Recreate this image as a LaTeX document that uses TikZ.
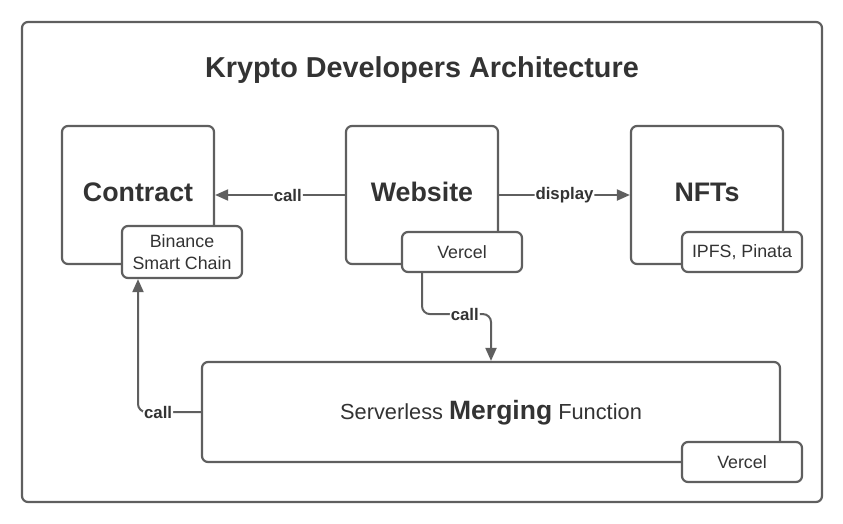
\documentclass[tikz,border=0pt]{standalone}
\usepackage{fontspec}
\setmainfont{Liberation Sans}
\usepackage{xcolor}
\usetikzlibrary{arrows.meta, positioning, calc}
\definecolor{linegray}{HTML}{5F5F5F}
\definecolor{textgray}{HTML}{333333}
\tikzset{>={Triangle[length=13pt,width=11pt]}}
\tikzset{
  bigbox/.style={draw=linegray, line width=2.2pt, rounded corners=6pt, minimum width=152pt, minimum height=138pt, text depth=6pt, text=textgray, font=\fontsize{26.8}{30}\selectfont\bfseries},
  subbox/.style={draw=linegray, fill=white, line width=2.2pt, rounded corners=6pt, minimum width=120pt, minimum height=40pt, align=center, text=textgray, font=\fontsize{17.8}{21.8}\selectfont},
  conn/.style={draw=linegray, line width=2pt, rounded corners=8pt, ->},
  lbl/.style={fill=white, inner sep=1pt, text=textgray, font=\fontsize{16.8}{20}\selectfont\bfseries}
}

\begin{document}
\begin{tikzpicture}[x=1pt,y=-1pt]
  \useasboundingbox (0,0) rectangle (843,523);
  % frame and title
  \draw [draw=linegray, line width=2.2pt, rounded corners=6pt] (22,22) rectangle (822,502);
  \node [anchor=base, text=textgray, font=\fontsize{28.8}{34}\selectfont\bfseries] (title) at (422,77) {Krypto Developers Architecture};

  % main boxes
  \node [bigbox] (contract) at (138,195) {Contract};
  \node [bigbox] (website) at (422,195) {Website};
  \node [bigbox] (nfts) at (707,195) {NFTs};
  \node [bigbox, minimum width=578pt, minimum height=100pt, text depth=4pt, font=\fontsize{21.8}{25}\selectfont] (merging) at (491,412)
    {Serverless {\fontsize{26.5}{30}\selectfont\bfseries Merging} Function};

  % hosting tags
  \node [subbox, minimum height=52pt] (bsc) at (182,252) {Binance\\Smart Chain};
  \node [subbox] (webvercel) at (462,252) {Vercel};
  \node [subbox] (ipfs) at (742,252) {IPFS, Pinata};
  \node [subbox] (fnvercel) at (742,462) {Vercel};

  % calls
  \draw [conn] (website.west) -- node [lbl, pos=0.44] {call} (contract.east);
  \draw [conn] (website.east) -- node [lbl] {display} (nfts.west);
  \draw [conn] ([xshift=-40pt]webvercel.south) -- ++(0,41) -| node [lbl, pos=0.31] {call} (merging.north);
  \draw [conn] (merging.west) -| node [lbl, pos=0.34] {call} ([xshift=-44pt]bsc.south);
\end{tikzpicture}
\end{document}
